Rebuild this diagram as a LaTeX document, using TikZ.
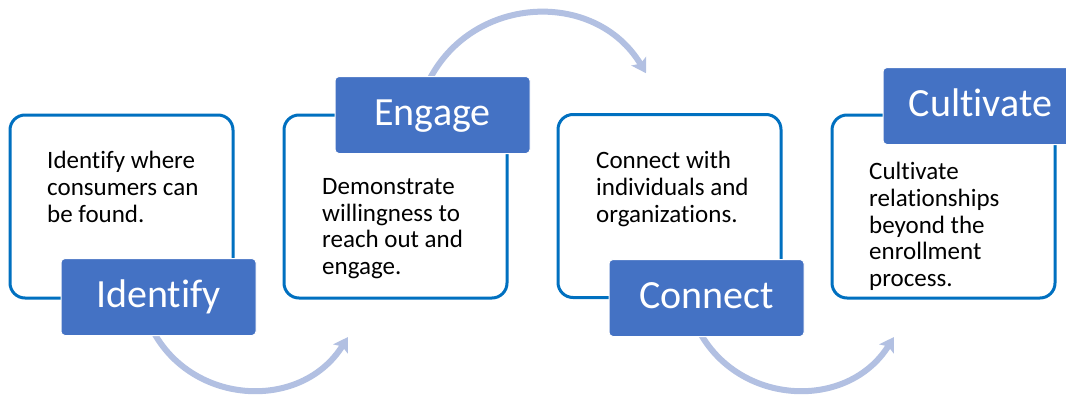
\documentclass[tikz,border=0pt]{standalone}
\usepackage{fontspec}
\setmainfont{Carlito}[Ligatures=NoCommon]
\usetikzlibrary{arrows.meta}
\definecolor{boxblue}{HTML}{0070C0}
\definecolor{labblue}{HTML}{4472C4}
\definecolor{arrblue}{RGB}{178,192,226}
\begin{document}
\begin{tikzpicture}[x=1pt,y=-1pt,
  textbox/.style={draw=boxblue, line width=3pt, rounded corners=15pt, minimum width=223pt, minimum height=183pt, inner sep=0pt, fill=white},
  headbox/.style={fill=labblue, draw=white, line width=1pt, rounded corners=4pt, minimum width=195pt, minimum height=77pt, inner sep=0pt, text=white, text height=28pt, text depth=8pt, font=\fontsize{40}{42}\selectfont},
  body/.style={anchor=north west, align=left, inner sep=0pt, font=\fontsize{25}{26.8}\selectfont},
  flow/.style={draw=arrblue, line width=6pt, -{Stealth[length=14pt,width=17pt,inset=3pt]}}]
\useasboundingbox (0,0) rectangle (1066,394);
\fill[white] (0,0) rectangle (1066,394);
% boxes
\node[textbox] (b1) at (121.5,206.5) {};
\node[textbox] (b2) at (395.5,206.5) {};
\node[textbox] (b3) at (669.5,206) {};
\node[textbox] (b4) at (943.5,206.5) {};
% body texts
\node[body] (t1) at (47,151) {Identify where\\consumers can\\be found.};
\node[body] (t2) at (322,178) {Demonstrate\\willingness to\\reach out and\\engage.};
\node[body] (t3) at (596,151) {Connect with\\individuals and\\organizations.};
\node[body] (t4) at (869,162) {Cultivate\\relationships\\beyond the\\enrollment\\process.};
% arrows
\coordinate (a1s) at (150,325);
\coordinate (a1e) at (348,337);
\coordinate (a2s) at (426.9,84.7);
\coordinate (a2e) at (646,73.2);
\coordinate (a3s) at (696,325);
\coordinate (a3e) at (894,337);
\draw[flow] (a1s) .. controls (187.7,405.8) and (300.7,412.6) .. (a1e);
\draw[flow] (a2s) .. controls (468.9,-5.5) and (594.8,-12.1) .. (a2e);
\draw[flow] (a3s) .. controls (733.7,405.8) and (846.7,412.6) .. (a3e);
% labels
\node[headbox] (l1) at (158.5,297) {Identify};
\node[headbox] (l2) at (432.5,115) {Engage};
\node[headbox] (l3) at (706.5,298) {Connect};
\node[headbox] (l4) at (980.5,106) {Cultivate};
\end{tikzpicture}
\end{document}
